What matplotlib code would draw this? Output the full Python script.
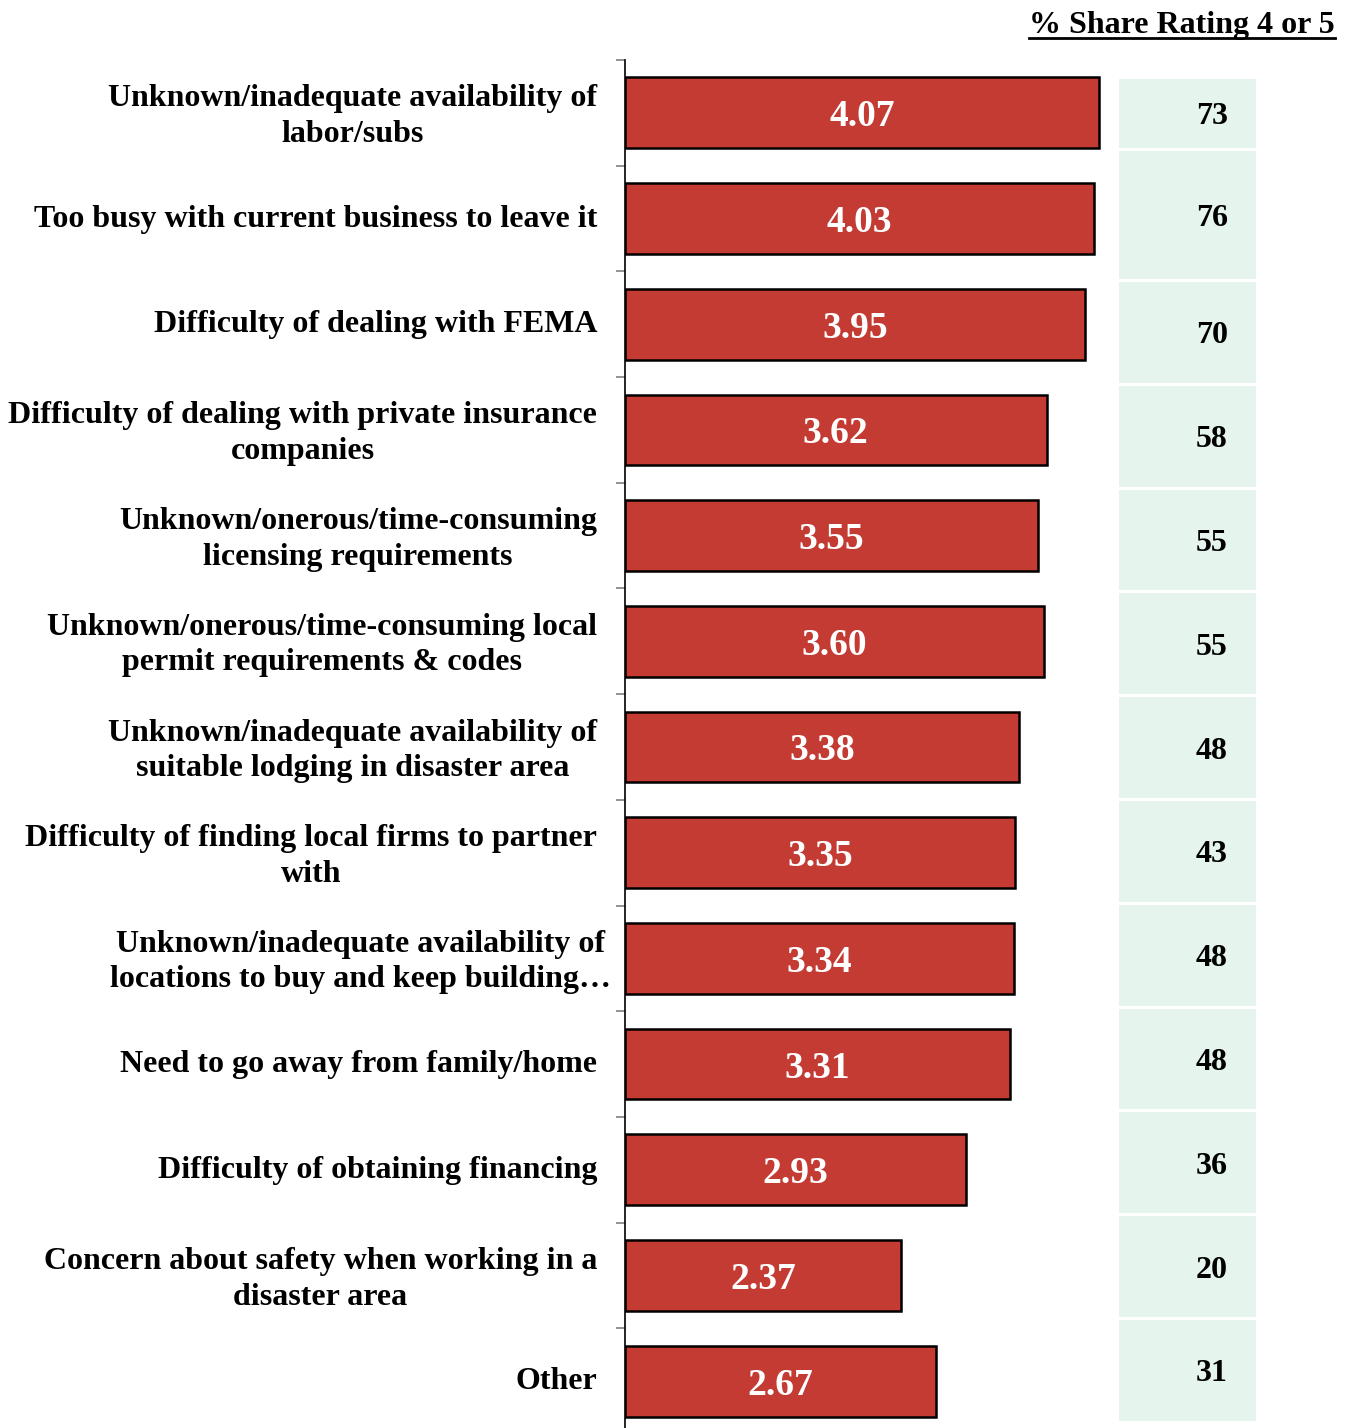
import matplotlib.pyplot as plt
import matplotlib.transforms as mtransforms
from matplotlib.lines import Line2D
from matplotlib.patches import Rectangle

plt.rcParams['font.family'] = ['Liberation Serif', 'DejaVu Serif']
plt.rcParams['font.weight'] = 'bold'

categories = [
    "Unknown/inadequate availability of\nlabor/subs",
    "Too busy with current business to leave it",
    "Difficulty of dealing with FEMA",
    "Difficulty of dealing with private insurance\ncompanies",
    "Unknown/onerous/time-consuming\nlicensing requirements",
    "Unknown/onerous/time-consuming local\npermit requirements & codes",
    "Unknown/inadequate availability of\nsuitable lodging in disaster area",
    "Difficulty of finding local firms to partner\nwith",
    "Unknown/inadequate availability of\nlocations to buy and keep building\u2026",
    "Need to go away from family/home",
    "Difficulty of obtaining financing",
    "Concern about safety when working in a\ndisaster area",
    "Other",
]
mean_scores = [4.07, 4.03, 3.95, 3.62, 3.55, 3.60, 3.38, 3.35, 3.34, 3.31, 2.93, 2.37, 2.67]
share_4_or_5 = [73, 76, 70, 58, 55, 55, 48, 43, 48, 48, 36, 20, 31]

W, H = 1353, 1428
BAR_RED = '#C33B33'
CELL_GREEN = '#E5F5EE'

fig = plt.figure(figsize=(W / 100, H / 100), dpi=100)

# side column with the share values, laid out in pixel units
ax_tab = fig.add_axes([0, 0, 1, 1])
ax_tab.set_xlim(0, W)
ax_tab.set_ylim(H, 0)
ax_tab.axis('off')

row_heights = [69, 128] + [100.8] * (len(share_4_or_5) - 2)
row_gap = 3
top = 79
for val, h in zip(share_4_or_5, row_heights):
    ax_tab.add_patch(Rectangle((1119, top), 137, h, facecolor=CELL_GREEN, edgecolor='none'))
    ax_tab.text(1212, top + h / 2, str(val), ha='center', va='center_baseline',
                fontsize=23, fontweight='bold', color='black')
    top += h + row_gap

# main bar chart
ax = fig.add_axes([625 / W, (H - 1434) / H, 524 / W, 1374 / H])
ax.patch.set_visible(False)
y = list(range(len(categories)))
bars = ax.barh(y, mean_scores, height=0.67, color=BAR_RED, edgecolor='black', linewidth=1.8)
for bar, val in zip(bars, mean_scores):
    ax.text(bar.get_width() / 2, bar.get_y() + bar.get_height() / 2, f"{val:.2f}",
            ha='center', va='center_baseline', color='white', fontsize=27, fontweight='bold')

ax.set_xlim(0, 4.5)
ax.set_ylim(len(categories) - 0.5, -0.5)
ax.set_xticks([])
ax.set_yticks(y)
ax.set_yticklabels([])
ax.tick_params(axis='y', which='major', length=0)
ax.set_yticks([i - 0.5 for i in range(len(categories) + 1)], minor=True)
ax.tick_params(axis='y', which='minor', length=6.5, width=1.2, color='#808080')
for side in ['top', 'right', 'bottom']:
    ax.spines[side].set_visible(False)
ax.spines['left'].set_linewidth(1.2)
ax.spines['left'].set_color('black')

# category labels, right aligned next to the axis; the truncated one spills a bit further
for i, label in enumerate(categories):
    dx = -14 if i == 8 else -28
    trans = ax.get_yaxis_transform() + mtransforms.ScaledTranslation(
        dx / 100, 3 / 100, fig.dpi_scale_trans)
    ax.text(0, i, label, transform=trans, ha='right', va='center_baseline',
            multialignment='center', fontsize=23, fontweight='bold', linespacing=1.3)

# underlined header above the share column
title = fig.text(1335 / W, 1 - 33 / H, "% Share Rating 4 or 5", ha='right', va='baseline',
                 fontsize=23, fontweight='bold')
fig.canvas.draw()
bb = title.get_window_extent()
uy = 1 - 38 / H
fig.add_artist(Line2D([bb.x0 / W, bb.x1 / W], [uy, uy], transform=fig.transFigure,
                      color='black', linewidth=2))

fig.savefig('out.png', dpi=100)
